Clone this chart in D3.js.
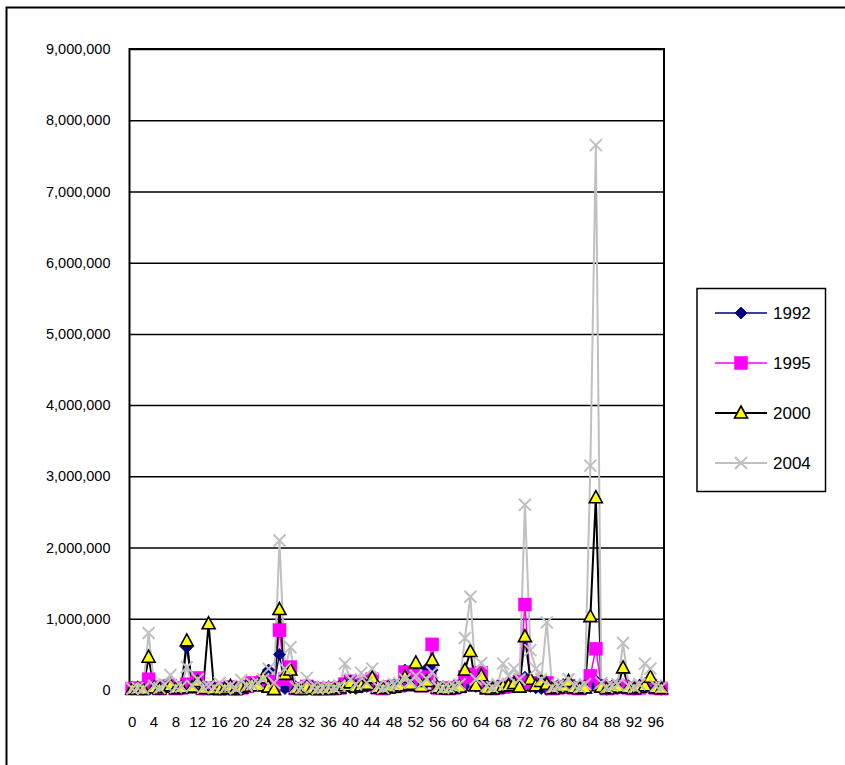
<!DOCTYPE html>
<html>
<head>
<meta charset="utf-8">
<script src="https://cdn.jsdelivr.net/npm/d3@7"></script>
<style>
  html, body { margin: 0; padding: 0; background: #fff; }
  svg { display: block; font-family: "Liberation Sans", Arial, sans-serif; }
</style>
</head>
<body>
<svg id="chart" width="845" height="765"></svg>
<script>
// ---- data ----
const categories = d3.range(0, 98); // category labels 0..97
const xTickLabels = [0, 4, 8, 12, 16, 20, 24, 28, 32, 36, 40, 44, 48, 52, 56, 60, 64, 68, 72, 76, 80, 84, 88, 92, 96];
const yTickValues = [0, 1000000, 2000000, 3000000, 4000000, 5000000, 6000000, 7000000, 8000000, 9000000];
const seriesNames = ["1992", "1995", "2000", "2004"];

const values1992 = [
  10000, 15000, 8000, 60000, 20000, 12000, 30000, 40000, 15000, 20000,
  600000, 30000, 90000, 10000, 20000, 15000, 10000, 12000, 30000, 5000,
  25000, 40000, 60000, 80000, 120000, 280000, 90000, 500000, 20000, 30000,
  15000, 10000, 40000, 20000, 8000, 10000, 12000, 15000, 20000, 60000,
  30000, 20000, 40000, 50000, 60000, 20000, 15000, 30000, 40000, 90000,
  280000, 120000, 250000, 80000, 300000, 280000, 30000, 20000, 15000, 25000,
  40000, 60000, 100000, 50000, 30000, 20000, 15000, 20000, 30000, 40000,
  60000, 90000, 180000, 50000, 30000, 20000, 10000, 15000, 20000, 30000,
  40000, 20000, 15000, 30000, 60000, 130000, 20000, 10000, 15000, 20000,
  30000, 15000, 10000, 20000, 30000, 40000, 20000, 10000
];
const values1995 = [
  20000, 25000, 15000, 150000, 40000, 20000, 50000, 60000, 20000, 30000,
  80000, 40000, 170000, 20000, 30000, 20000, 15000, 20000, 40000, 10000,
  30000, 50000, 100000, 90000, 110000, 120000, 60000, 840000, 150000, 320000,
  20000, 15000, 50000, 30000, 10000, 15000, 20000, 20000, 30000, 80000,
  120000, 60000, 70000, 90000, 150000, 30000, 20000, 40000, 50000, 60000,
  250000, 100000, 200000, 60000, 180000, 640000, 30000, 25000, 20000, 30000,
  50000, 180000, 220000, 80000, 240000, 30000, 20000, 30000, 40000, 50000,
  80000, 120000, 1200000, 100000, 80000, 90000, 100000, 20000, 30000, 40000,
  60000, 30000, 20000, 40000, 200000, 580000, 60000, 20000, 30000, 40000,
  50000, 30000, 20000, 30000, 50000, 60000, 30000, 20000
];
const values2000 = [
  10000, 15000, 10000, 460000, 30000, 15000, 40000, 60000, 20000, 30000,
  690000, 40000, 120000, 20000, 930000, 15000, 10000, 20000, 50000, 10000,
  30000, 50000, 70000, 60000, 170000, 40000, 5000, 1130000, 220000, 280000,
  20000, 10000, 40000, 20000, 10000, 15000, 20000, 15000, 30000, 60000,
  100000, 40000, 60000, 80000, 170000, 30000, 20000, 30000, 40000, 60000,
  180000, 80000, 380000, 50000, 120000, 420000, 30000, 20000, 15000, 25000,
  40000, 280000, 540000, 60000, 200000, 20000, 15000, 30000, 50000, 60000,
  90000, 40000, 750000, 150000, 60000, 120000, 80000, 20000, 30000, 50000,
  120000, 30000, 20000, 30000, 1030000, 2700000, 40000, 20000, 30000, 40000,
  310000, 30000, 20000, 40000, 60000, 180000, 30000, 20000
];
const values2004 = [
  20000, 30000, 20000, 800000, 60000, 30000, 80000, 210000, 40000, 50000,
  320000, 60000, 150000, 30000, 50000, 40000, 100000, 30000, 60000, 20000,
  140000, 60000, 80000, 100000, 150000, 300000, 100000, 2100000, 300000, 600000,
  40000, 30000, 170000, 40000, 20000, 30000, 40000, 30000, 60000, 370000,
  150000, 80000, 240000, 100000, 300000, 50000, 30000, 60000, 80000, 100000,
  150000, 120000, 200000, 80000, 150000, 250000, 50000, 30000, 40000, 50000,
  80000, 730000, 1310000, 150000, 380000, 60000, 40000, 80000, 370000, 200000,
  300000, 150000, 2600000, 560000, 300000, 150000, 950000, 40000, 60000, 80000,
  150000, 60000, 40000, 80000, 3150000, 7650000, 100000, 40000, 60000, 80000,
  660000, 60000, 40000, 80000, 370000, 300000, 60000, 40000
];

// ---- layout ----
const plot = { left: 129.5, top: 49, right: 664, bottom: 690 };

const svg = d3.select("#chart");

// outer frame (extends past the visible window on right/bottom)
svg.append("rect")
  .attr("x", 6.5).attr("y", 7.5)
  .attr("width", 900).attr("height", 900)
  .attr("fill", "none").attr("stroke", "#000").attr("stroke-width", 2);

const x = d3.scaleBand().domain(categories).range([plot.left, plot.right]).paddingInner(0).paddingOuter(0);
const cx = c => x(c) + x.bandwidth() / 2;
const y = d3.scaleLinear().domain([0, 9000000]).range([plot.bottom, plot.top]);

// gridlines
const grid = svg.append("g").attr("transform", `translate(${plot.left},0)`)
  .call(d3.axisLeft(y).tickValues(yTickValues).tickSize(-(plot.right - plot.left)).tickFormat(""));
grid.select(".domain").remove();
grid.selectAll("line").attr("stroke", "#000").attr("stroke-width", 1.5);

// plot border
svg.append("path")
  .attr("d", `M${plot.left},${plot.bottom}V${plot.top}H${plot.right}V${plot.bottom}`)
  .attr("fill", "none").attr("stroke", "#000").attr("stroke-width", 2);

// y axis labels
const yAxis = svg.append("g").attr("transform", `translate(${plot.left},0)`)
  .call(d3.axisLeft(y).tickValues(yTickValues).tickSize(0).tickPadding(19).tickFormat(d3.format(",")));
yAxis.select(".domain").remove();
yAxis.selectAll("text").attr("font-size", 14.5).attr("fill", "#000").attr("font-family", "Liberation Sans, Arial, sans-serif");

// x axis
const xAxis = svg.append("g").attr("transform", `translate(0,${plot.bottom})`)
  .call(d3.axisBottom(x).tickValues(xTickLabels).tickSize(0).tickPadding(26));
xAxis.select(".domain").attr("stroke", "#000").attr("stroke-width", 1.5);
xAxis.selectAll("text").attr("font-size", 15).attr("fill", "#000").attr("font-family", "Liberation Sans, Arial, sans-serif");

// series
const series = [
  { name: seriesNames[0], values: values1992, color: "#000080", width: 1.5, marker: "diamond" },
  { name: seriesNames[1], values: values1995, color: "#ff00ff", width: 1.5, marker: "square" },
  { name: seriesNames[2], values: values2000, color: "#000000", width: 2, marker: "triangle" },
  { name: seriesNames[3], values: values2004, color: "#c0c0c0", width: 2, marker: "x" }
];

function drawMarker(g, type, px, py) {
  if (type === "diamond") {
    g.append("path").attr("d", `M${px},${py - 6}L${px + 6},${py}L${px},${py + 6}L${px - 6},${py}Z`)
      .attr("fill", "#000080").attr("stroke", "#000080").attr("stroke-width", 0.8);
  } else if (type === "square") {
    g.append("rect").attr("x", px - 6.5).attr("y", py - 6.5).attr("width", 13).attr("height", 13)
      .attr("fill", "#ff00ff").attr("stroke", "#ff00ff").attr("stroke-width", 0.5);
  } else if (type === "triangle") {
    g.append("path").attr("d", `M${px},${py - 7}L${px + 6.5},${py + 5}L${px - 6.5},${py + 5}Z`)
      .attr("fill", "#ffff00").attr("stroke", "#000").attr("stroke-width", 1.6).attr("stroke-linejoin", "miter");
  } else {
    g.append("path").attr("d", `M${px - 6},${py - 6}L${px + 6},${py + 6}M${px + 6},${py - 6}L${px - 6},${py + 6}`)
      .attr("fill", "none").attr("stroke", "#c0c0c0").attr("stroke-width", 2);
  }
}

const line = d3.line().x((d, i) => cx(categories[i])).y(d => y(d));

// all lines first, then all markers
const linesG = svg.append("g");
series.forEach(s => {
  linesG.append("path").datum(s.values).attr("d", line)
    .attr("fill", "none").attr("stroke", s.color).attr("stroke-width", s.width).attr("stroke-linejoin", "miter");
});
const markersG = svg.append("g");
series.forEach(s => {
  const g = markersG.append("g");
  s.values.forEach((v, i) => drawMarker(g, s.marker, cx(categories[i]), y(v)));
});

// legend
const lg = svg.append("g");
lg.append("rect").attr("x", 697).attr("y", 288.5).attr("width", 128.5).attr("height", 203)
  .attr("fill", "#fff").attr("stroke", "#000").attr("stroke-width", 1.5);
const rowY = [313, 363, 413, 463];
series.forEach((s, i) => {
  const yy = rowY[i];
  lg.append("line").attr("x1", 715).attr("x2", 767).attr("y1", yy).attr("y2", yy)
    .attr("stroke", s.color).attr("stroke-width", s.width);
  drawMarker(lg, s.marker, 741, yy);
  lg.append("text").attr("x", 773).attr("y", yy).attr("dy", "0.36em")
    .attr("font-size", 17).attr("fill", "#000").text(s.name);
});
</script>
</body>
</html>
